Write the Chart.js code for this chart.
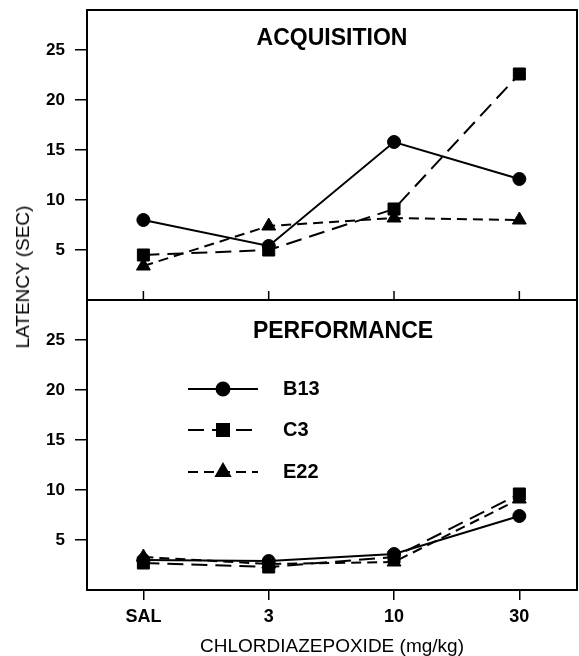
<!DOCTYPE html>
<html>
<head>
<meta charset="utf-8">
<script src="https://cdn.jsdelivr.net/npm/chart.js@4/dist/chart.umd.min.js"></script>
<style>
  body { margin: 0; background: #fff; }
  .wrap { position: relative; width: 579px; height: 656px; background: #fff; }
  .wrap canvas { position: absolute; left: 0; }
  #topChart { top: 0; }
  #bottomChart { top: 290px; }
  .ytitle {
    position: absolute; left: 23px; top: 277px;
    transform: translate(-50%, -50%) rotate(-90deg);
    white-space: nowrap;
    font: 19px "Liberation Sans", Arial, sans-serif;
    color: #000;
  }
</style>
</head>
<body>
<div class="wrap">
  <canvas id="topChart" width="579" height="302"></canvas>
  <canvas id="bottomChart" width="579" height="366"></canvas>
  <div class="ytitle">LATENCY (SEC)</div>
</div>
<script>
// categories / ticks
const doseLabels = ["SAL", "3", "10", "30"];
const yTicks = [5, 10, 15, 20, 25];
const seriesNames = ["B13", "C3", "E22"];

// acquisition values (sec)
const acqB13 = [8.0, 5.4, 15.8, 12.1];
const acqC3 = [4.5, 5.0, 9.1, 22.6];
const acqE22 = [3.4, 7.4, 8.2, 8.0];

// performance values (sec)
const perfB13 = [3.0, 2.9, 3.6, 7.4];
const perfC3 = [2.7, 2.3, 3.3, 9.6];
const perfE22 = [3.3, 2.6, 2.8, 9.1];

const FONT = '"Liberation Sans", Arial, sans-serif';

// line style per series
const styles = [
  { pointStyle: 'circle', pointRadius: 6.5, borderDash: [] },
  { pointStyle: 'rect', pointRadius: 8.5, borderDash: [16, 8] },
  { pointStyle: 'triangle', pointRadius: 8, borderDash: [10, 6] }
];

function makeDatasets(values) {
  return values.map((vals, i) => ({
    label: seriesNames[i],
    data: vals.map((v, j) => ({ x: j, y: v })),
    borderColor: '#000',
    backgroundColor: '#000',
    borderWidth: 2,
    borderDash: styles[i].borderDash,
    pointStyle: styles[i].pointStyle,
    pointRadius: styles[i].pointRadius,
    pointBorderWidth: 1,
    pointBackgroundColor: '#000',
    pointBorderColor: '#000',
    tension: 0
  }));
}

// frame, inner ticks, panel title, legend
const panelPlugin = {
  id: 'panel',
  afterDraw(chart, args, opts) {
    const { ctx, chartArea: a, scales } = chart;
    ctx.save();
    ctx.strokeStyle = '#000';
    ctx.fillStyle = '#000';
    ctx.lineWidth = 2;
    ctx.strokeRect(a.left, a.top, a.right - a.left, a.bottom - a.top);

    if (opts.innerTicks) {
      ctx.lineWidth = 1.5;
      doseLabels.forEach((_, i) => {
        const x = scales.x.getPixelForValue(i);
        ctx.beginPath();
        ctx.moveTo(x, a.bottom);
        ctx.lineTo(x, a.bottom - 9);
        ctx.stroke();
      });
    }

    ctx.font = 'bold 23px ' + FONT;
    ctx.textAlign = 'center';
    ctx.textBaseline = 'middle';
    ctx.fillText(opts.title, opts.titleX, opts.titleY);

    if (opts.legend) {
      const rows = [99, 140, 182];
      chart.data.datasets.forEach((ds, i) => {
        const y = rows[i];
        ctx.lineWidth = 2;
        ctx.setLineDash(ds.borderDash);
        ctx.beginPath();
        ctx.moveTo(188, y);
        ctx.lineTo(258, y);
        ctx.stroke();
        ctx.setLineDash([]);
        Chart.helpers.drawPoint(ctx, {
          pointStyle: ds.pointStyle,
          radius: ds.pointRadius,
          rotation: 0,
          borderWidth: 1
        }, 223, y);
        ctx.font = 'bold 20px ' + FONT;
        ctx.textAlign = 'left';
        ctx.fillText(ds.label, 283, y);
      });
    }
    ctx.restore();
  }
};

function yScale() {
  return {
    type: 'linear',
    min: 0,
    max: 29,
    afterBuildTicks: s => { s.ticks = yTicks.map(v => ({ value: v })); },
    afterFit: s => {
      s.width = 87;
      s.paddingTop = 0;
      s.paddingBottom = 0;
    },
    grid: { drawOnChartArea: false, drawTicks: true, tickLength: 12, color: '#000', lineWidth: 1.5 },
    border: { display: true, color: '#000', width: 2 },
    ticks: { color: '#000', padding: 10, font: { family: FONT, size: 17, weight: 'bold' } }
  };
}

function xBase() {
  return {
    type: 'linear',
    min: -0.45,
    max: 3.46,
    afterBuildTicks: s => { s.ticks = doseLabels.map((_, i) => ({ value: i })); }
  };
}

const common = {
  responsive: false,
  animation: false,
  devicePixelRatio: 1,
  plugins: { legend: { display: false }, tooltip: { enabled: false } }
};

new Chart(document.getElementById('topChart'), {
  type: 'line',
  data: { datasets: makeDatasets([acqB13, acqC3, acqE22]) },
  options: {
    ...common,
    layout: { autoPadding: false, padding: { top: 10, right: 2, bottom: 2, left: 0 } },
    scales: {
      x: { ...xBase(), display: false },
      y: yScale()
    },
    plugins: {
      ...common.plugins,
      panel: { title: 'ACQUISITION', titleX: 332, titleY: 39, innerTicks: true }
    }
  },
  plugins: [panelPlugin]
});

new Chart(document.getElementById('bottomChart'), {
  type: 'line',
  data: { datasets: makeDatasets([perfB13, perfC3, perfE22]) },
  options: {
    ...common,
    layout: { autoPadding: false, padding: { top: 10, right: 2, bottom: 0, left: 0 } },
    scales: {
      x: {
        ...xBase(),
        afterFit: s => { s.height = 66; },
        grid: { drawOnChartArea: false, drawTicks: true, tickLength: 10, color: '#000', lineWidth: 1.5 },
        border: { display: true, color: '#000', width: 2 },
        ticks: {
          color: '#000', padding: 6, autoSkip: false, maxRotation: 0,
          font: { family: FONT, size: 18, weight: 'bold' },
          callback: v => doseLabels[v]
        },
        title: {
          display: true, text: 'CHLORDIAZEPOXIDE (mg/kg)', color: '#000',
          padding: { top: 0, bottom: 0 },
          font: { family: FONT, size: 19, lineHeight: 1 }
        }
      },
      y: yScale()
    },
    plugins: {
      ...common.plugins,
      panel: { title: 'PERFORMANCE', titleX: 343, titleY: 42, legend: true }
    }
  },
  plugins: [panelPlugin]
});
</script>
</body>
</html>
